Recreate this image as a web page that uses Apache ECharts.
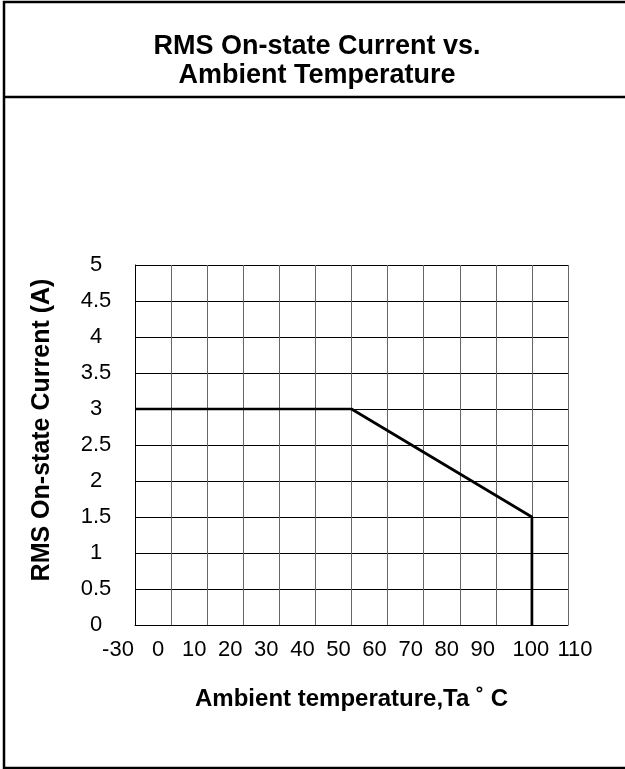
<!DOCTYPE html>
<html>
<head>
<meta charset="utf-8">
<script src="https://cdn.jsdelivr.net/npm/echarts@6/dist/echarts.min.js"></script>
<style>
html,body{margin:0;padding:0;background:#fff;}
#chart{width:625px;height:769px;}
</style>
</head>
<body>
<div id="chart"></div>
<script>
// ---- data ----
const chartTitle = 'RMS On-state Current vs.\nAmbient Temperature';
const xAxisName = 'Ambient temperature,Ta \u02da C';
const yAxisName = 'RMS On-state Current (A)';
const xCategories = ['-30','0','10','20','30','40','50','60','70','80','90','100','110'];
const curveX = ['-30','50','100','100'];
const curveY = [3, 3, 1.5, 0];
const yMin = 0, yMax = 5, yStep = 0.5;

const FONT = '"Liberation Sans", Arial, sans-serif';
const TICK = 22;
const chart = echarts.init(document.getElementById('chart'), null, {renderer:'canvas'});

function xLabel(v){
  if (v === '-30') return '{c|' + v + '}';
  if (v === '100') return '{b|' + v + '}';
  if (v === '110') return '{d|' + v + '}';
  return '{a|' + v + '}';
}

const option = {
  backgroundColor: '#fff',
  animation: false,
  graphic: [
    {type:'rect', shape:{x:4, y:2, width:640, height:766}, style:{fill:'none', stroke:'#000', lineWidth:2.5}, z:100},
    {type:'line', shape:{x1:4, y1:97, x2:640, y2:97}, style:{stroke:'#000', lineWidth:2.5}, z:100},
    {type:'text', x:317, y:61, z:100, style:{
      text: chartTitle, align:'center', verticalAlign:'middle',
      font: 'bold 27px ' + FONT, lineHeight: 29, fill:'#000'
    }}
  ],
  grid: {left:135, top:265, right:57, bottom:144, containLabel:false},
  xAxis: {
    type: 'category',
    data: xCategories,
    boundaryGap: false,
    name: xAxisName,
    nameLocation: 'middle',
    nameGap: 62,
    nameTextStyle: {fontFamily: FONT, fontWeight:'bold', fontSize: 24, color:'#000'},
    axisLine: {show:true, lineStyle:{color:'#000', width:1}},
    axisTick: {show:false},
    axisLabel: {
      interval: 0,
      margin: 14,
      formatter: xLabel,
      color: '#000',
      fontFamily: FONT,
      fontSize: TICK,
      rich: {
        a: {fontFamily: FONT, fontSize: TICK, color:'#000', padding:[0,26,0,0]},
        b: {fontFamily: FONT, fontSize: TICK, color:'#000', padding:[0,2,0,0]},
        c: {fontFamily: FONT, fontSize: TICK, color:'#000', padding:[0,34,0,0]},
        d: {fontFamily: FONT, fontSize: TICK, color:'#000', padding:[0,0,0,14]}
      }
    },
    splitLine: {show:true, interval:0, lineStyle:{color:'#666', width:1}}
  },
  yAxis: {
    type: 'value',
    min: yMin, max: yMax, interval: yStep,
    name: yAxisName,
    nameLocation: 'middle',
    nameGap: 80,
    nameRotate: 90,
    nameTextStyle: {fontFamily: FONT, fontWeight:'bold', fontSize: 25, color:'#000', padding:[0,0,0,30]},
    axisLine: {show:true, lineStyle:{color:'#000', width:1}},
    axisTick: {show:false},
    axisLabel: {margin: 39, align:'center', color:'#000', fontFamily: FONT, fontSize: TICK},
    splitLine: {show:true, lineStyle:{color:'#000', width:1}}
  },
  series: [{
    type: 'line',
    data: curveX.map((x,i) => [x, curveY[i]]),
    showSymbol: false,
    symbol: 'none',
    lineStyle: {color:'#000', width:2.7},
    z: 10
  }]
};
chart.setOption(option);
</script>
</body>
</html>
